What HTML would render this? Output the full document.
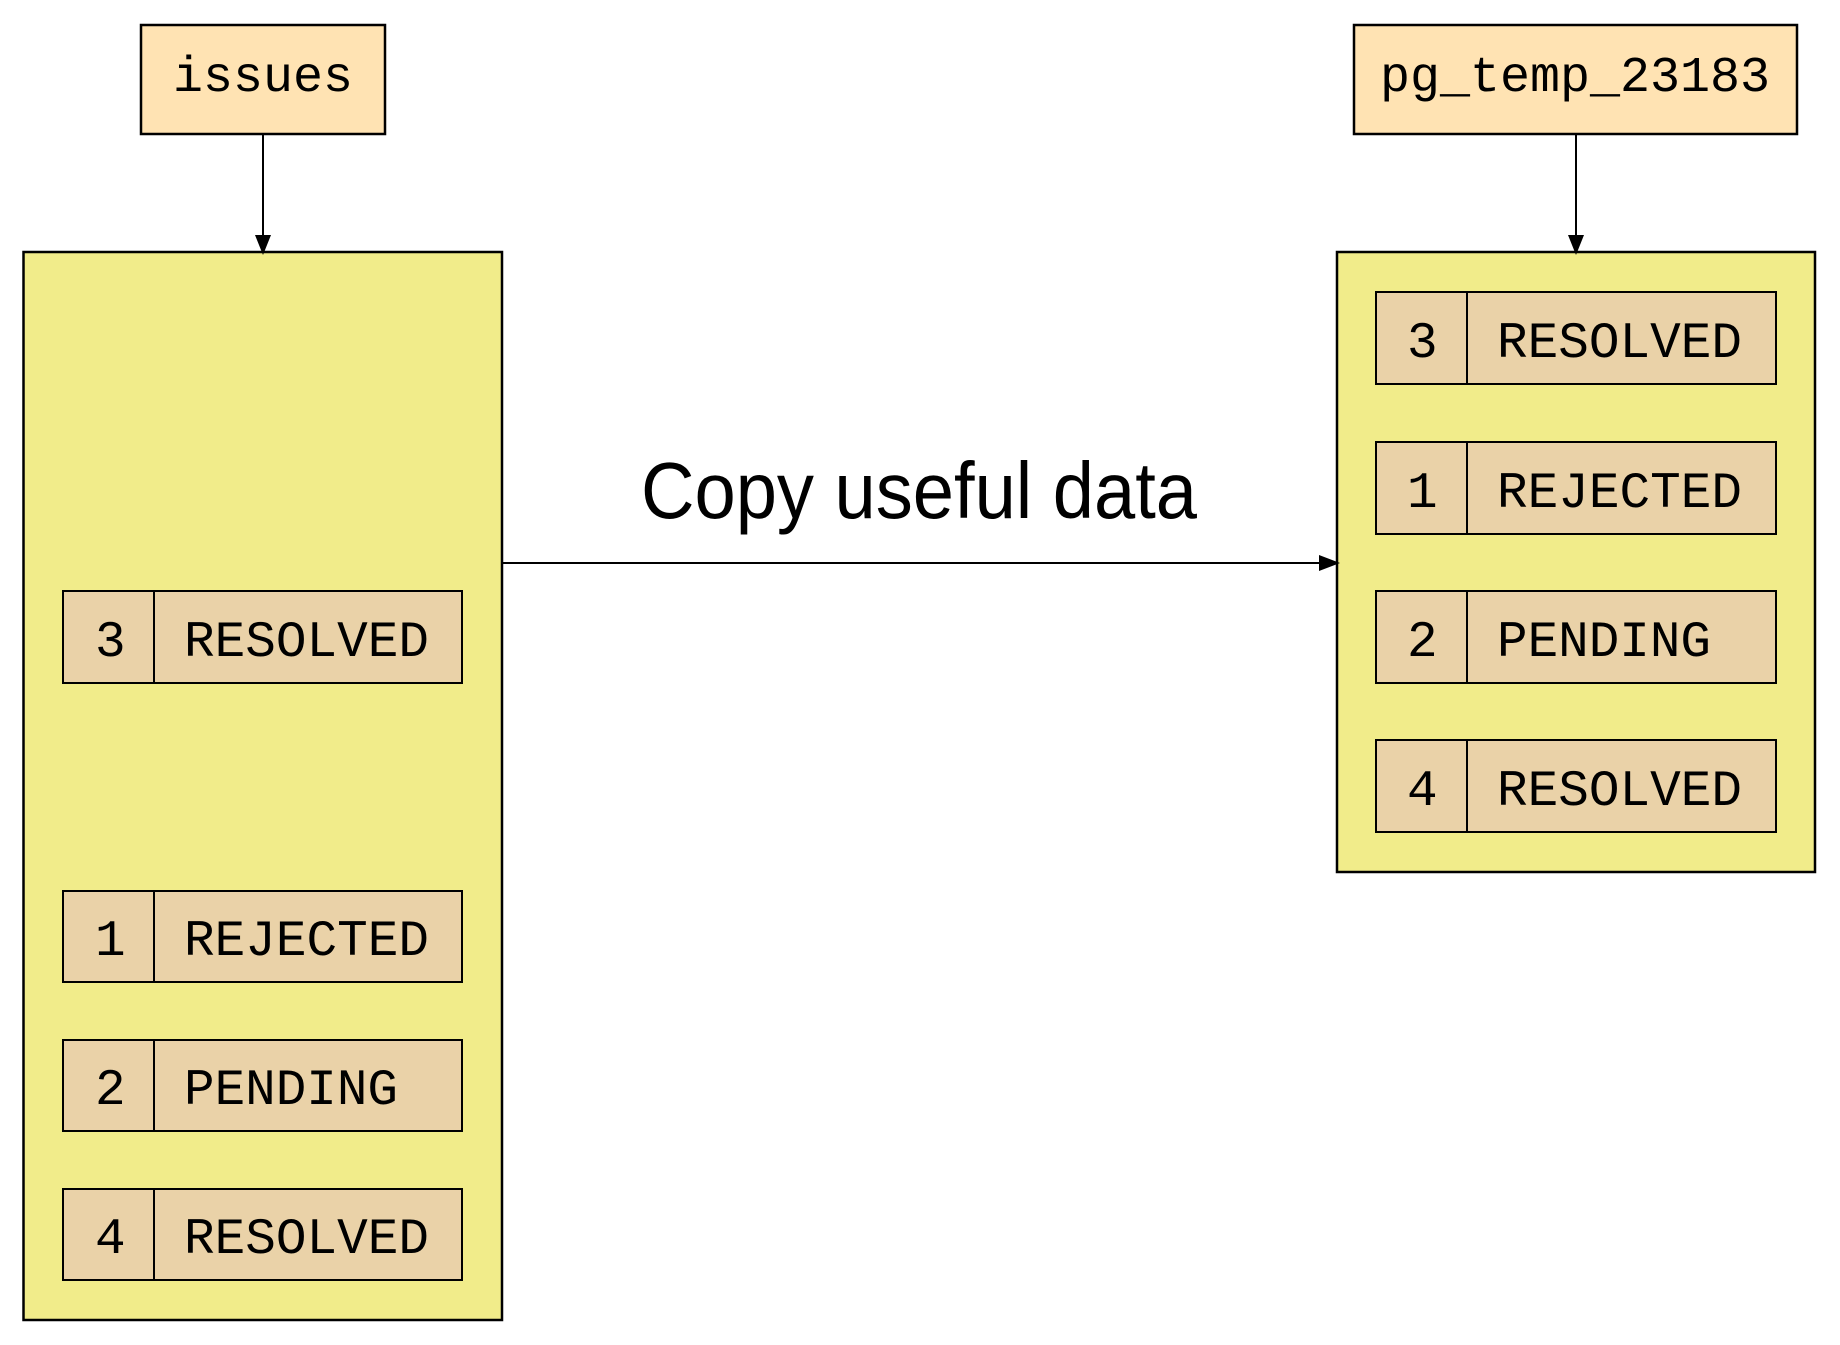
<!DOCTYPE html>
<html><head><meta charset="utf-8"><style>html,body{margin:0;padding:0;background:#fff}svg{display:block}</style></head>
<body>
<svg width="1840" height="1345" viewBox="0 0 1840 1345" xmlns="http://www.w3.org/2000/svg">
<g stroke="#000" stroke-width="2.5">
<rect x="141" y="25" width="244" height="109" fill="#ffe3b3"/>
<rect x="1354" y="25" width="443" height="109" fill="#ffe3b3"/>
<rect x="23.5" y="252" width="478.5" height="1068" fill="#f1ec8a"/>
<rect x="1337" y="252" width="478" height="620" fill="#f1ec8a"/>
</g>
<g stroke="#000" stroke-width="2">
<line x1="263" y1="134" x2="263" y2="236"/>
<line x1="1576" y1="134" x2="1576" y2="236"/>
<line x1="502" y1="563" x2="1320" y2="563"/>
</g>
<g fill="#000">
<polygon points="255,235 271,235 263,255"/>
<polygon points="1568,235 1584,235 1576,255"/>
<polygon points="1319,555 1319,571 1340,563"/>
</g>
<g font-family="Liberation Mono, monospace" font-size="50" fill="#000" text-anchor="middle">
<text x="263" y="91">issues</text>
<text x="1575" y="91">pg_temp_23183</text>
</g>
<text x="641" y="518" font-family="Liberation Sans, sans-serif" font-size="80" textLength="556" lengthAdjust="spacingAndGlyphs">Copy useful data</text>
<g font-family="Liberation Mono, monospace" font-size="51" fill="#000">
<g stroke="#000" stroke-width="2" fill="#ead2a8">
<rect x="63" y="591" width="399" height="92"/><line x1="154" y1="591" x2="154" y2="683"/>
<rect x="63" y="891" width="399" height="91"/><line x1="154" y1="891" x2="154" y2="982"/>
<rect x="63" y="1040" width="399" height="91"/><line x1="154" y1="1040" x2="154" y2="1131"/>
<rect x="63" y="1189" width="399" height="91"/><line x1="154" y1="1189" x2="154" y2="1280"/>
<rect x="1376" y="292" width="400" height="92"/><line x1="1467" y1="292" x2="1467" y2="384"/>
<rect x="1376" y="442" width="400" height="92"/><line x1="1467" y1="442" x2="1467" y2="534"/>
<rect x="1376" y="591" width="400" height="92"/><line x1="1467" y1="591" x2="1467" y2="683"/>
<rect x="1376" y="740" width="400" height="92"/><line x1="1467" y1="740" x2="1467" y2="832"/>
</g>
<text x="95" y="656">3</text><text x="184" y="656" textLength="245" lengthAdjust="spacingAndGlyphs">RESOLVED</text>
<text x="95" y="955">1</text><text x="184" y="955" textLength="245" lengthAdjust="spacingAndGlyphs">REJECTED</text>
<text x="95" y="1104">2</text><text x="184" y="1104" textLength="214" lengthAdjust="spacingAndGlyphs">PENDING</text>
<text x="95" y="1253">4</text><text x="184" y="1253" textLength="245" lengthAdjust="spacingAndGlyphs">RESOLVED</text>
<text x="1407" y="357">3</text><text x="1497" y="357" textLength="245" lengthAdjust="spacingAndGlyphs">RESOLVED</text>
<text x="1407" y="507">1</text><text x="1497" y="507" textLength="245" lengthAdjust="spacingAndGlyphs">REJECTED</text>
<text x="1407" y="656">2</text><text x="1497" y="656" textLength="214" lengthAdjust="spacingAndGlyphs">PENDING</text>
<text x="1407" y="805">4</text><text x="1497" y="805" textLength="245" lengthAdjust="spacingAndGlyphs">RESOLVED</text>
</g>
</svg>
</body></html>
